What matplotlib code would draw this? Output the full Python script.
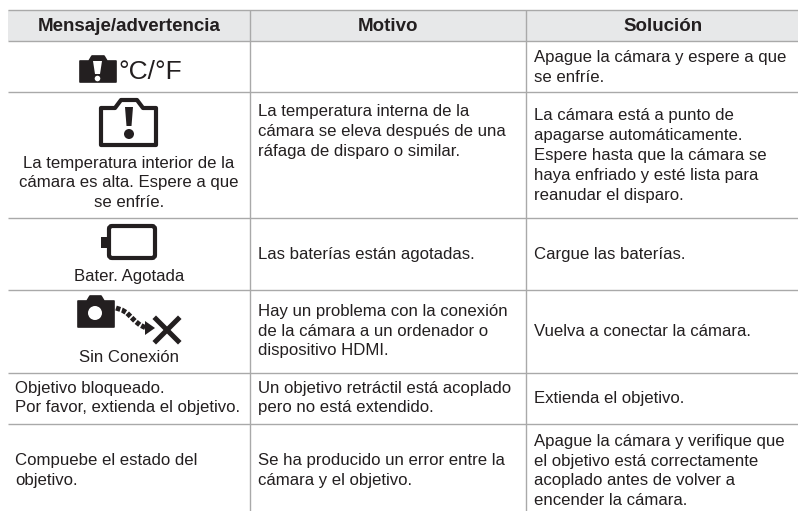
import matplotlib
matplotlib.use('Agg')
import matplotlib.pyplot as plt
from matplotlib.patches import Circle, FancyBboxPatch, Polygon, Rectangle

plt.rcParams['font.family'] = ['Liberation Sans', 'DejaVu Sans']

# Contenido de la tabla
headers = ['Mensaje/advertencia', 'Motivo', 'Solución']
col1_texts = ['La temperatura interior de la\ncámara es alta. Espere a que\nse enfríe.',
              'Bater. Agotada',
              'Sin Conexión']
col1_left = ['Objetivo bloqueado.\nPor favor, extienda el objetivo.',
             'Compuebe el estado del\nobjetivo.']
col2_texts = ['La temperatura interna de la\ncámara se eleva después de una\nráfaga de disparo o similar.',
              'Las baterías están agotadas.',
              'Hay un problema con la conexión\nde la cámara a un ordenador o\ndispositivo HDMI.',
              'Un objetivo retráctil está acoplado\npero no está extendido.',
              'Se ha producido un error entre la\ncámara y el objetivo.']
col3_texts = ['Apague la cámara y espere a que\nse enfríe.',
              'La cámara está a punto de\napagarse automáticamente.\nEspere hasta que la cámara se\nhaya enfriado y esté lista para\nreanudar el disparo.',
              'Cargue las baterías.',
              'Vuelva a conectar la cámara.',
              'Extienda el objetivo.',
              'Apague la cámara y verifique que\nel objetivo está correctamente\nacoplado antes de volver a\nencender la cámara.']

# Geometria en pixeles
row_lines = [10, 41, 92, 218, 290, 373, 424]
left, right, bottom = 8, 798, 511
col_lines = [249.5, 525.5]
col1_y = [183, 276, 358]
col1_left_y = [398, 470.5]
col2_y = [131.5, 254, 331, 398, 470.5]
col3_y = [67.5, 155.5, 254, 331, 398, 471]
text_color = '#231f20'
line_color = '#a9a9a9'
FS = 12.1
LS = 1.41

fig = plt.figure(figsize=(7.98, 5.11), dpi=100)
ax = fig.add_axes([0, 0, 1, 1])
ax.set_xlim(0, 798)
ax.set_ylim(511, 0)
ax.axis('off')

# Cabecera
ax.add_patch(Rectangle((left, row_lines[0]), right - left, row_lines[1] - row_lines[0],
                       facecolor='#e7e8e9', edgecolor='none'))
for y in row_lines:
    ax.plot([left, right], [y, y], color=line_color, lw=1.0, solid_capstyle='butt')
for x in col_lines:
    ax.plot([x, x], [row_lines[0], bottom], color=line_color, lw=1.0, solid_capstyle='butt')

for x, h in zip([129, 388, 663], headers):
    ax.text(x, 31, h, ha='center', va='baseline', fontsize=13.5, fontweight='bold', color=text_color)


def cell(x, y, s, ha='left'):
    ax.text(x, y, s, ha=ha, va='center', fontsize=FS, color=text_color,
            linespacing=LS, multialignment=ha)


for y, s in zip(col1_y, col1_texts):
    cell(129, y, s, ha='center')
for y, s in zip(col1_left_y, col1_left):
    cell(15, y, s)
for y, s in zip(col2_y, col2_texts):
    cell(258, y, s)
for y, s in zip(col3_y, col3_texts):
    cell(534, y, s)

# Icono 1: camara llena con exclamacion
ax.add_patch(Polygon([(80, 61), (89, 61), (92, 56), (104, 56), (107, 61), (116, 61), (116, 82), (80, 82)],
                     closed=True, facecolor=text_color, edgecolor=text_color, lw=1.2, joinstyle='round'))
ax.add_patch(Polygon([(93, 61), (102, 61), (100, 74), (95, 74)], closed=True, facecolor='white', edgecolor='none'))
ax.add_patch(Circle((97.5, 78.5), 2.8, facecolor='white', edgecolor='none'))
ax.text(150, 72, '°C/°F', ha='center', va='center', fontsize=19, color=text_color)

# Icono 2: camara en contorno
ax.add_patch(Polygon([(101, 108), (115, 108), (121, 100), (137, 100), (143, 108), (156, 108), (156, 145), (101, 145)],
                     closed=True, facecolor='none', edgecolor=text_color, lw=3, joinstyle='round'))
ax.add_patch(Polygon([(125, 107), (133, 107), (131.5, 126), (126.5, 126)], closed=True,
                     facecolor=text_color, edgecolor='none'))
ax.add_patch(Circle((129, 134), 5, facecolor=text_color, edgecolor='none'))

# Icono 3: bateria
ax.add_patch(FancyBboxPatch((109, 226), 46, 32, boxstyle='round,pad=0,rounding_size=3',
                            facecolor='none', edgecolor=text_color, lw=3))
ax.add_patch(Rectangle((101, 237), 7, 11, facecolor=text_color, edgecolor='none'))

# Icono 4: camara, flecha punteada y X
ax.add_patch(Polygon([(78, 301), (87, 301), (90, 296), (101, 296), (104, 301), (114, 301), (114, 327), (78, 327)],
                     closed=True, facecolor=text_color, edgecolor=text_color, lw=1.2, joinstyle='round'))
ax.add_patch(Circle((95, 313), 7, facecolor='white', edgecolor='none'))
dots_x = [116, 122, 127, 131, 135, 140, 146]
dots_y = [308, 310, 313, 317, 321, 325, 328]
ax.plot(dots_x, dots_y, color=text_color, lw=3.6, ls=(0, (0.9, 0.35)))
ax.add_patch(Polygon([(145, 321), (155, 328), (145, 335)], closed=True, facecolor=text_color, edgecolor='none'))
ax.plot([156, 178], [319, 341], color=text_color, lw=3.6)
ax.plot([156, 178], [341, 319], color=text_color, lw=3.6)

fig.savefig('out.png', dpi=100)
